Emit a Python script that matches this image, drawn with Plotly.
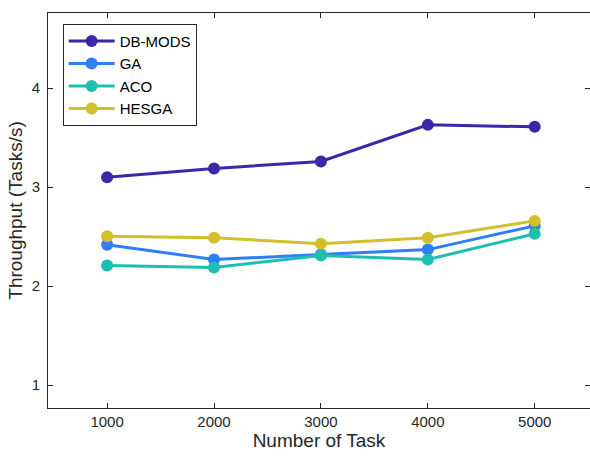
import plotly.graph_objects as go

tasks = [1000, 2000, 3000, 4000, 5000]
db_mods = [3.10, 3.19, 3.26, 3.63, 3.61]
ga = [2.42, 2.27, 2.32, 2.37, 2.61]
aco = [2.21, 2.19, 2.31, 2.27, 2.53]
hesga = [2.505, 2.49, 2.43, 2.49, 2.66]

series = [
    ("DB-MODS", db_mods, "#3E26A8"),
    ("GA", ga, "#2E7EF5"),
    ("ACO", aco, "#1CBFB0"),
    ("HESGA", hesga, "#D3BE2B"),
]

fig = go.Figure()
for name, vals, col in series:
    fig.add_trace(go.Scatter(
        x=tasks, y=vals, name=name, mode="lines+markers",
        line=dict(color=col, width=3),
        marker=dict(color=col, size=12),
    ))

FONT = "Liberation Sans, Arial"
axis_common = dict(
    showline=True, linecolor="#262626", linewidth=1, mirror="ticks",
    ticks="inside", ticklen=5, tickcolor="#262626", showgrid=False,
    zeroline=False, tickfont=dict(family=FONT, size=15, color="#262626"),
)

fig.update_layout(
    width=590, height=457,
    margin=dict(l=48, r=0, t=13, b=49),
    paper_bgcolor="white", plot_bgcolor="white",
    font=dict(family=FONT, size=15, color="#262626"),
    xaxis=dict(range=[447, 5517], tickvals=tasks, ticktext=[str(t) for t in tasks],
               title=dict(text="Number of Task", font=dict(size=19), standoff=4), **axis_common),
    yaxis=dict(range=[0.77, 4.76], tickvals=[1, 2, 3, 4], ticklabelstandoff=4,
               title=dict(text="Throughput (Tasks/s)", font=dict(size=19), standoff=4), **axis_common),
    legend=dict(x=0.027, y=0.973, xanchor="left", yanchor="top",
                bordercolor="#262626", borderwidth=1, bgcolor="white",
                font=dict(family=FONT, size=15, color="#000000"), itemwidth=46, tracegroupgap=0),
    showlegend=True,
)

fig.write_html("out.html")
